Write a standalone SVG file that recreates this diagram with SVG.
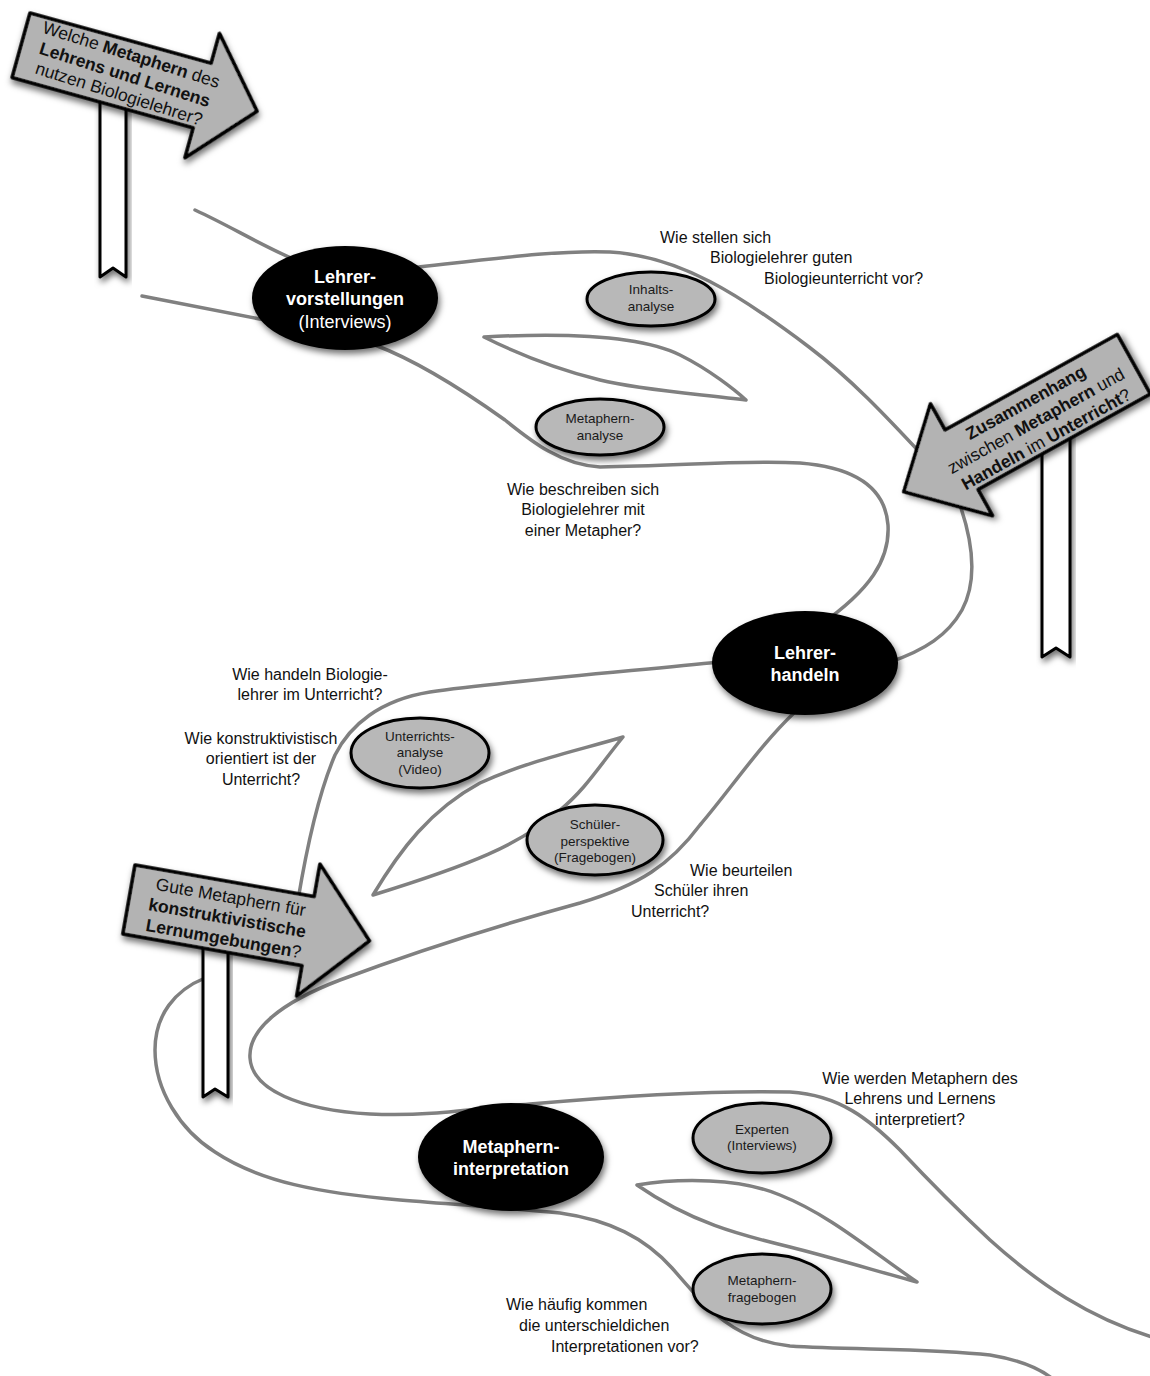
<svg xmlns="http://www.w3.org/2000/svg" width="1150" height="1376" viewBox="0 0 1150 1376">
  <defs>
    <filter id="shadow" x="-20%" y="-20%" width="140%" height="150%">
      <feDropShadow dx="2" dy="4" stdDeviation="3" flood-color="#000" flood-opacity="0.55"/>
    </filter>
  </defs>
  <style>
    text { font-family: "Liberation Sans", Arial, Helvetica, sans-serif; }
    .path { fill: none; stroke: #808080; stroke-width: 3.5; stroke-linecap: round; stroke-linejoin: round; }
    .node { fill: #000; filter: url(#shadow); }
    .method { fill: #b8b8b8; stroke: #000; stroke-width: 3; filter: url(#shadow); }
    .sign { fill: #b3b3b3; stroke: #000; stroke-width: 3.5; stroke-linejoin: round; filter: url(#shadow); }
    .post { fill: #fff; stroke: #000; stroke-width: 3; stroke-linejoin: round; filter: url(#shadow); }
    .nodeLabel { fill: #fff; font-size: 18px; font-weight: bold; text-anchor: middle; }
    .nodeSub { fill: #fff; font-size: 18px; text-anchor: middle; }
    .methodLabel { fill: #1a1a1a; font-size: 13.5px; text-anchor: middle; }
    .question { fill: #111; font-size: 16px; }
    .signText { fill: #111; font-size: 17.5px; text-anchor: middle; }
    .b { font-weight: bold; }
  </style>
  <rect width="1150" height="1376" fill="#fff"/>

  <!-- winding road: outer borders and inner leaf islands -->
  <g id="connectors">
    <path class="path" d="M195,210 C230,226 262,246 300,262"/>
    <path class="path" d="M142,296 C185,304 225,312 265,320"/>
    <path class="path" d="M410,268 C500,258 560,250 610,252 C680,256 740,295 809,347 C850,378 885,415 925,458"/>
    <path class="path" d="M484,337 C560,333 640,335 680,355 C710,370 735,390 746,400 C700,394 640,390 600,380 C560,370 520,355 484,337 Z"/>
    <path class="path" d="M375,345 C420,362 470,395 505,420 C530,440 560,465 600,467 C680,466 740,460 800,463 C850,467 885,485 888,525 C890,560 870,590 820,625"/>
    <path class="path" d="M960,505 C972,540 978,580 962,610 C948,635 925,650 890,662"/>
    <path class="path" d="M720,662 C620,672 500,682 430,692 C380,700 350,725 335,755 C320,790 308,840 298,900"/>
    <path class="path" d="M373,895 C400,850 430,810 480,783 C530,760 580,750 623,737 C600,765 585,790 560,810 C520,845 470,865 373,895 Z"/>
    <path class="path" d="M795,712 C760,745 730,790 700,825 C670,865 640,885 580,903 C500,925 420,950 340,980 C280,1003 248,1030 250,1058 C252,1090 300,1110 370,1114 C430,1117 480,1108 530,1104 C620,1096 710,1090 790,1092 C840,1095 870,1120 900,1150 C930,1182 960,1212 990,1240 C1040,1285 1090,1318 1152,1337"/>
    <path class="path" d="M205,978 C175,990 155,1015 155,1050 C155,1090 180,1130 215,1152 C260,1182 320,1193 400,1200 C460,1205 510,1208 560,1213 C610,1220 645,1238 672,1268 C702,1302 730,1340 790,1346 C850,1350 930,1348 990,1355 C1020,1360 1040,1368 1054,1380"/>
    <path class="path" d="M637,1185 C680,1178 740,1178 780,1195 C830,1215 870,1250 917,1282 C880,1272 830,1257 790,1247 C740,1235 690,1222 637,1185 Z"/>
  </g>

  <!-- main stations -->
  <g id="lehrervorstellungen">
    <ellipse class="node" cx="345" cy="298" rx="93" ry="52"/>
    <text class="nodeLabel" x="345" y="283">Lehrer-</text>
    <text class="nodeLabel" x="345" y="305">vorstellungen</text>
    <text class="nodeSub" x="345" y="328">(Interviews)</text>
  </g>
  <g id="lehrerhandeln">
    <ellipse class="node" cx="805" cy="663" rx="93" ry="52"/>
    <text class="nodeLabel" x="805" y="659">Lehrer-</text>
    <text class="nodeLabel" x="805" y="681">handeln</text>
  </g>
  <g id="metaphern-interpretation">
    <ellipse class="node" cx="511" cy="1157" rx="93" ry="54"/>
    <text class="nodeLabel" x="511" y="1153">Metaphern-</text>
    <text class="nodeLabel" x="511" y="1175">interpretation</text>
  </g>

  <!-- methods -->
  <g id="inhaltsanalyse">
    <ellipse class="method" cx="651" cy="299" rx="64" ry="27"/>
    <text class="methodLabel" x="651" y="294">Inhalts-</text>
    <text class="methodLabel" x="651" y="311">analyse</text>
  </g>
  <g id="metaphernanalyse">
    <ellipse class="method" cx="600" cy="427" rx="64" ry="28"/>
    <text class="methodLabel" x="600" y="423">Metaphern-</text>
    <text class="methodLabel" x="600" y="440">analyse</text>
  </g>
  <g id="unterrichtsanalyse">
    <ellipse class="method" cx="420" cy="753" rx="69" ry="35"/>
    <text class="methodLabel" x="420" y="741">Unterrichts-</text>
    <text class="methodLabel" x="420" y="757">analyse</text>
    <text class="methodLabel" x="420" y="774">(Video)</text>
  </g>
  <g id="schuelerperspektive">
    <ellipse class="method" cx="595" cy="840" rx="68" ry="35"/>
    <text class="methodLabel" x="595" y="829">Schüler-</text>
    <text class="methodLabel" x="595" y="846">perspektive</text>
    <text class="methodLabel" x="595" y="862">(Fragebogen)</text>
  </g>
  <g id="experten">
    <ellipse class="method" cx="762" cy="1138" rx="69" ry="35"/>
    <text class="methodLabel" x="762" y="1134">Experten</text>
    <text class="methodLabel" x="762" y="1150">(Interviews)</text>
  </g>
  <g id="metaphernfragebogen">
    <ellipse class="method" cx="762" cy="1289" rx="69" ry="35"/>
    <text class="methodLabel" x="762" y="1285">Metaphern-</text>
    <text class="methodLabel" x="762" y="1302">fragebogen</text>
  </g>

  <!-- research questions -->
  <g id="questions">
    <text class="question" x="660" y="243">Wie stellen sich</text>
    <text class="question" x="710" y="263">Biologielehrer guten</text>
    <text class="question" x="764" y="284">Biologieunterricht vor?</text>

    <text class="question" text-anchor="middle" x="583" y="495">Wie beschreiben sich</text>
    <text class="question" text-anchor="middle" x="583" y="515">Biologielehrer mit</text>
    <text class="question" text-anchor="middle" x="583" y="536">einer Metapher?</text>

    <text class="question" text-anchor="middle" x="310" y="680">Wie handeln Biologie-</text>
    <text class="question" text-anchor="middle" x="310" y="700">lehrer im Unterricht?</text>

    <text class="question" text-anchor="middle" x="261" y="744">Wie konstruktivistisch</text>
    <text class="question" text-anchor="middle" x="261" y="764">orientiert ist der</text>
    <text class="question" text-anchor="middle" x="261" y="785">Unterricht?</text>

    <text class="question" x="690" y="876">Wie beurteilen</text>
    <text class="question" x="654" y="896">Schüler ihren</text>
    <text class="question" x="631" y="917">Unterricht?</text>

    <text class="question" text-anchor="middle" x="920" y="1084">Wie werden Metaphern des</text>
    <text class="question" text-anchor="middle" x="920" y="1104">Lehrens und Lernens</text>
    <text class="question" text-anchor="middle" x="920" y="1125">interpretiert?</text>

    <text class="question" x="506" y="1310">Wie häufig kommen</text>
    <text class="question" x="519" y="1331">die unterschieldichen</text>
    <text class="question" x="551" y="1352">Interpretationen vor?</text>
  </g>

  <!-- signposts -->
  <g id="sign-metaphern">
    <path class="post" d="M100,100 L126,100 L126,277 L113,268 L100,277 Z"/>
    <g transform="translate(30,13) rotate(15.5)">
      <polygon class="sign" points="0,0 188,0 188,-31 245,34 188,98 188,67 0,67"/>
      <g transform="rotate(2,108,35)">
        <text class="signText" x="108" y="19">Welche <tspan class="b">Metaphern</tspan> des</text>
        <text class="signText b" x="108" y="40">Lehrens und Lernens</text>
        <text class="signText" x="108" y="60">nutzen Biologielehrer?</text>
      </g>
    </g>
  </g>
  <g id="sign-zusammenhang">
    <path class="post" d="M1042,430 L1070,430 L1070,657 L1056,648 L1042,657 Z"/>
    <g transform="translate(945,430) rotate(-29)">
      <polygon class="sign" points="0,0 197,0 197,68 0,68 0,98 -66,34 0,-30"/>
      <text class="signText b" x="84" y="21">Zusammenhang</text>
      <text class="signText" x="84" y="42">zwischen <tspan class="b">Metaphern</tspan> und</text>
      <text class="signText" x="84" y="63"><tspan class="b">Handeln</tspan> im <tspan class="b">Unterricht</tspan>?</text>
    </g>
  </g>
  <g id="sign-lernumgebungen">
    <path class="post" d="M203,930 L228,930 L228,1097 L215,1089 L203,1097 Z"/>
    <g transform="translate(135,865) rotate(10)">
      <polygon class="sign" points="0,0 182,0 182,-33 244,34 182,101 182,70 0,70"/>
      <text class="signText" x="100" y="21">Gute Metaphern für</text>
      <text class="signText b" x="100" y="42">konstruktivistische</text>
      <text class="signText" x="100" y="63"><tspan class="b">Lernumgebungen</tspan>?</text>
    </g>
  </g>
</svg>
